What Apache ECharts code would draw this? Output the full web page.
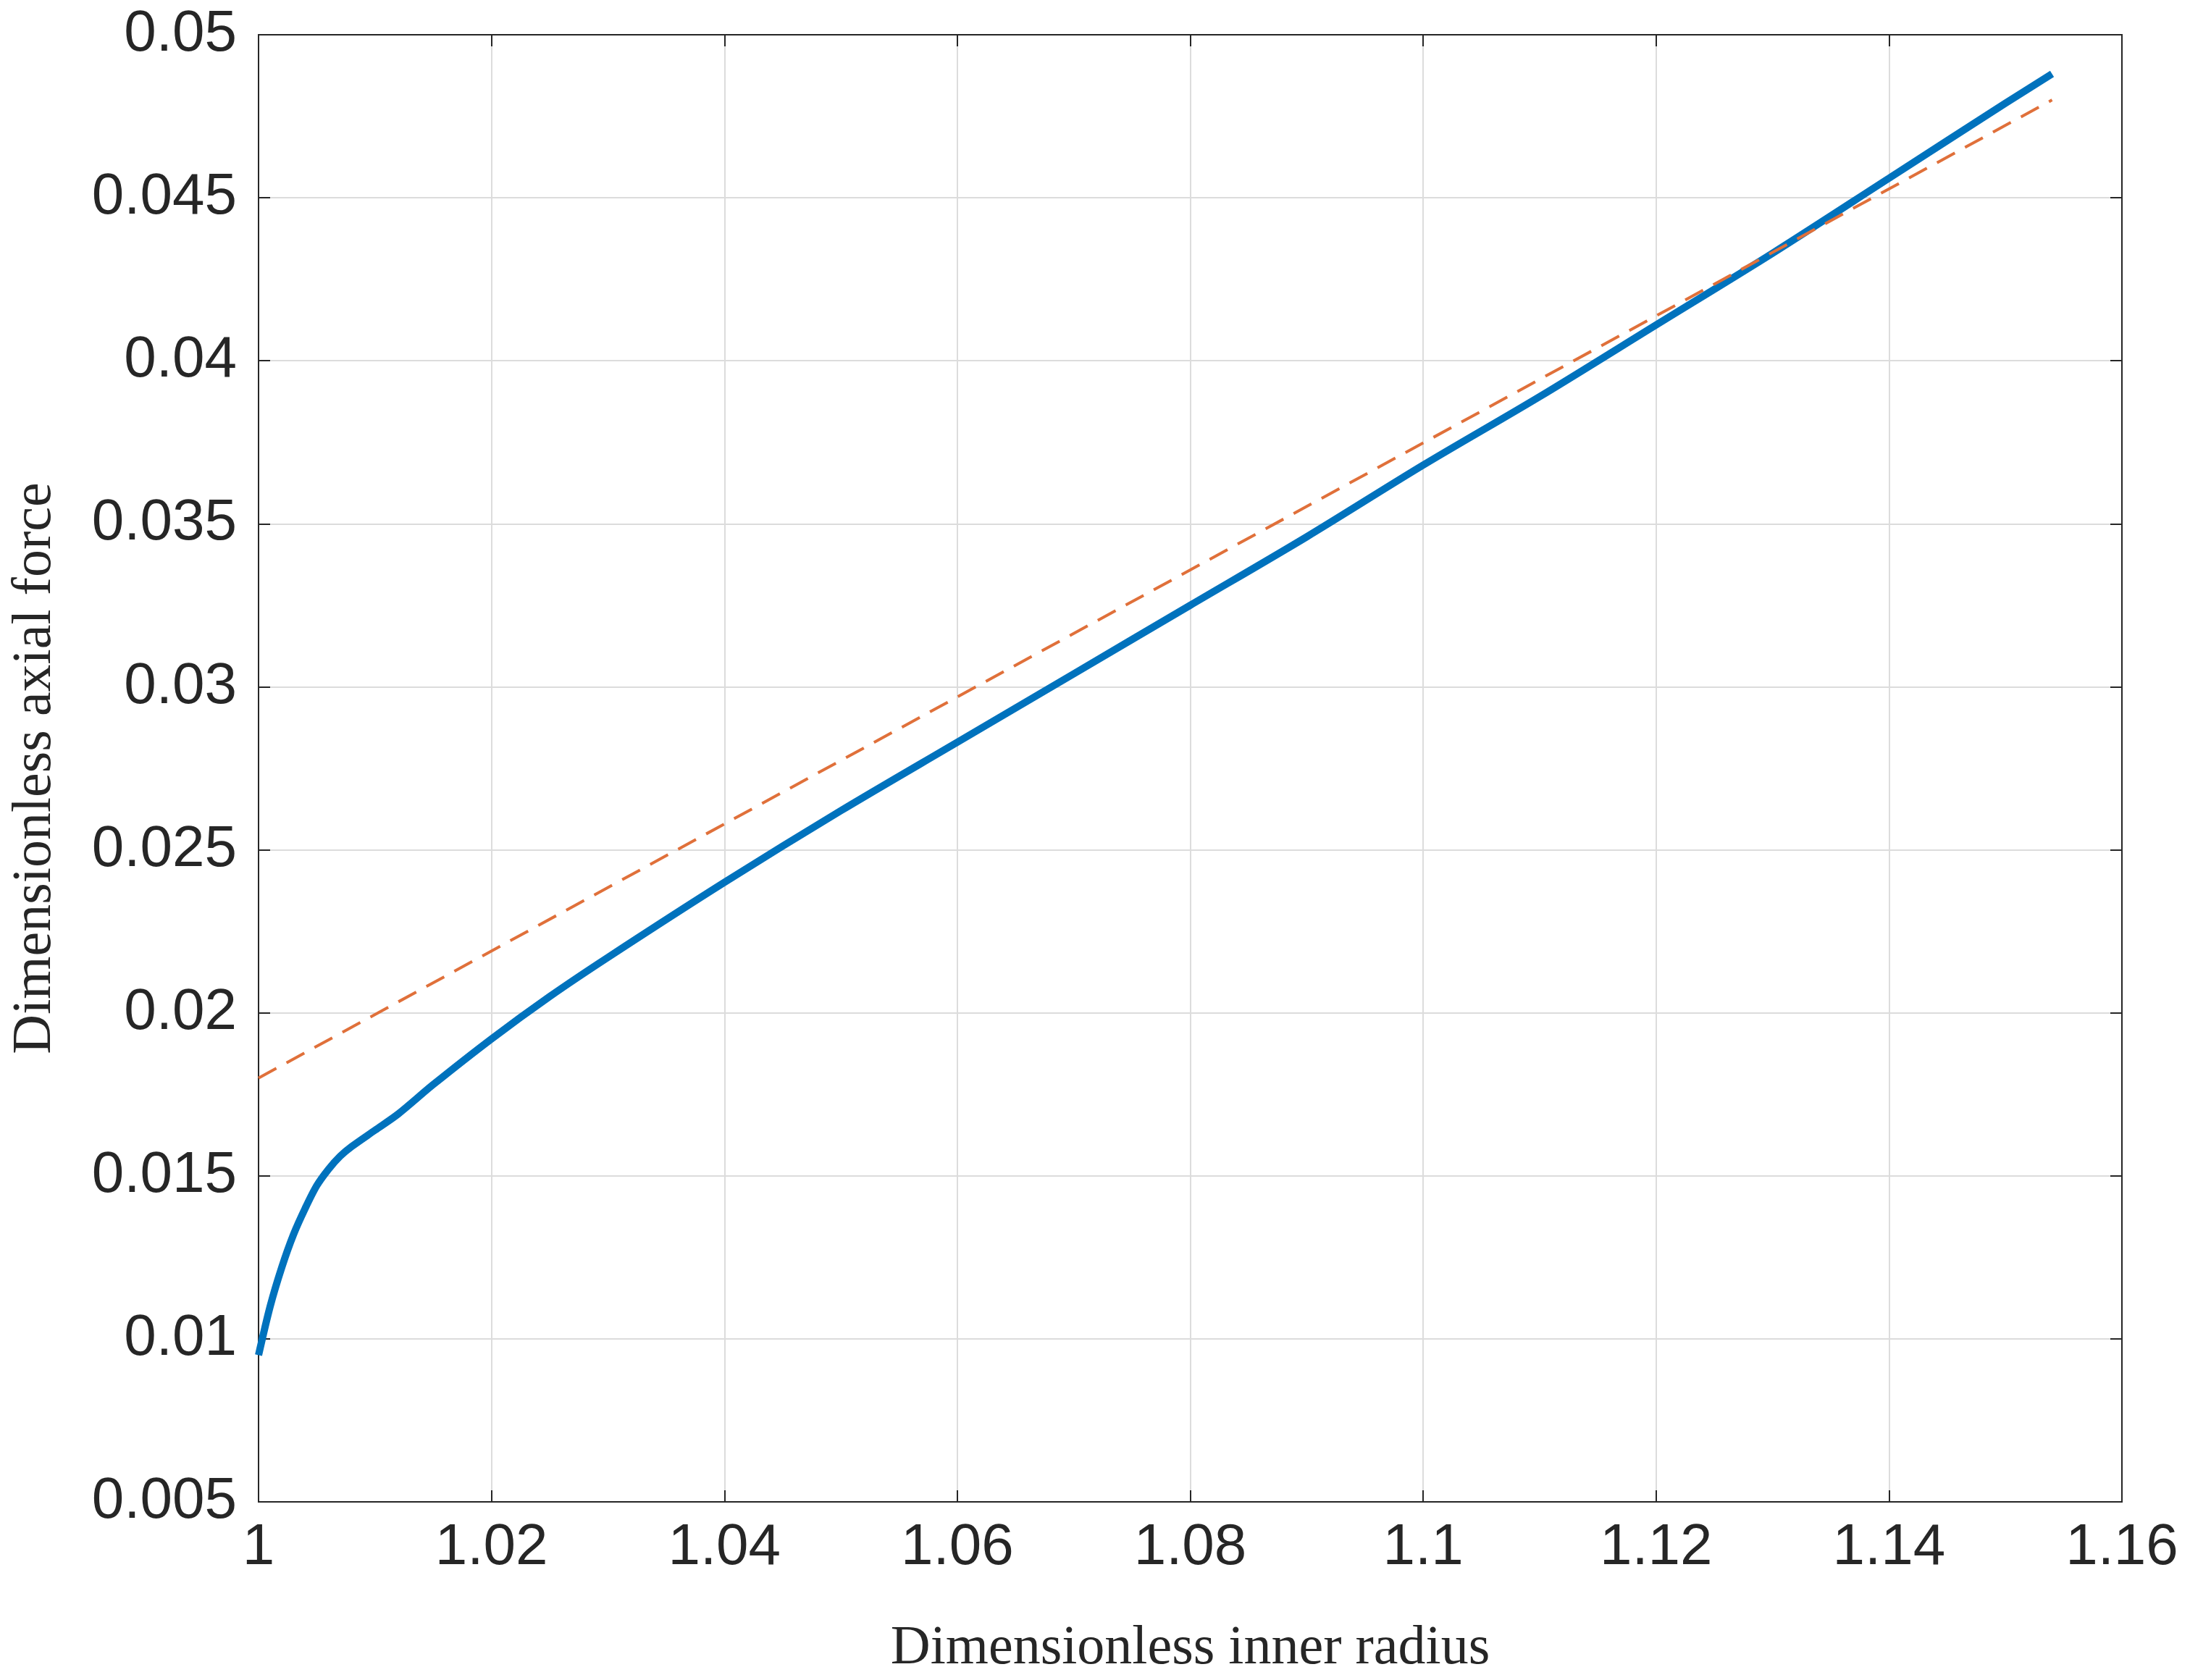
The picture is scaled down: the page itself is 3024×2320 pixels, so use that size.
<!DOCTYPE html>
<html><head><meta charset="utf-8">
<script src="https://cdn.jsdelivr.net/npm/echarts@6/dist/echarts.min.js"></script>
<style>html,body{margin:0;padding:0;background:#fff}#c{width:3024px;height:2320px}</style>
</head><body><div id="c"></div>
<script>
const xBlue = [1.000,1.001,1.002,1.003,1.004,1.005,1.006,1.007,1.008,1.010,1.012,1.015,1.020,1.025,1.030,1.040,1.050,1.060,1.070,1.080,1.090,1.100,1.110,1.120,1.130,1.140,1.150,1.154];
const yBlue = [0.0095,0.0110,0.0122,0.0132,0.0140,0.0147,0.0152,0.0156,0.0159,0.0164,0.0169,0.0178,0.0192,0.0205,0.0217,0.0240,0.0262,0.0283,0.0304,0.0325,0.0346,0.0368,0.0389,0.0411,0.0433,0.0456,0.0479,0.0488];
const xDash = [1.000,1.154];
const yDash = [0.0180,0.0480];
const xTitle = 'Dimensionless inner radius';
const yTitle = 'Dimensionless axial force';

const chart = echarts.init(document.getElementById('c'));
const lbl = {fontFamily:'Liberation Sans',fontSize:80,color:'#262626'};
const axLine = {show:true,lineStyle:{color:'#262626',width:2}};
const tick = {show:true,inside:true,length:16,lineStyle:{color:'#262626',width:2}};
const title = {fontFamily:'Liberation Serif',fontSize:76,color:'#262626'};
chart.setOption({
  backgroundColor:'#fff',
  grid:{left:357,right:94,top:48,bottom:237,show:true,borderColor:'#262626',borderWidth:2},
  xAxis:[{type:'value',min:1,max:1.16,interval:0.02,
    name:xTitle,nameLocation:'middle',nameGap:165,nameTextStyle:title,
    axisLine:axLine,axisTick:tick,
    axisLabel:Object.assign({margin:24,formatter:v=>+v.toFixed(2)+''},lbl),
    splitLine:{show:true,lineStyle:{color:'#dcdcdc',width:2}}},
    {type:'value',position:'top',min:1,max:1.16,interval:0.02,axisLine:axLine,axisTick:tick,axisLabel:{show:false},splitLine:{show:false}}],
  yAxis:[{type:'value',min:0.005,max:0.05,interval:0.005,
    name:yTitle,nameLocation:'middle',nameGap:270,nameTextStyle:title,
    axisLine:axLine,axisTick:tick,
    axisLabel:Object.assign({margin:30,formatter:v=>+v.toFixed(3)+''},lbl),
    splitLine:{show:true,lineStyle:{color:'#dcdcdc',width:2}}},
    {type:'value',position:'right',min:0.005,max:0.05,interval:0.005,axisLine:axLine,axisTick:tick,axisLabel:{show:false},splitLine:{show:false}}],
  series:[
    {type:'line',data:xBlue.map((x,i)=>[x,yBlue[i]]),smooth:0.3,showSymbol:false,
      lineStyle:{color:'#0072BD',width:10},z:3},
    {type:'line',data:xDash.map((x,i)=>[x,yDash[i]]),showSymbol:false,
      lineStyle:{color:'#E0703A',width:4,type:[28,16]},z:4}
  ],
  animation:false
});
</script></body></html>
